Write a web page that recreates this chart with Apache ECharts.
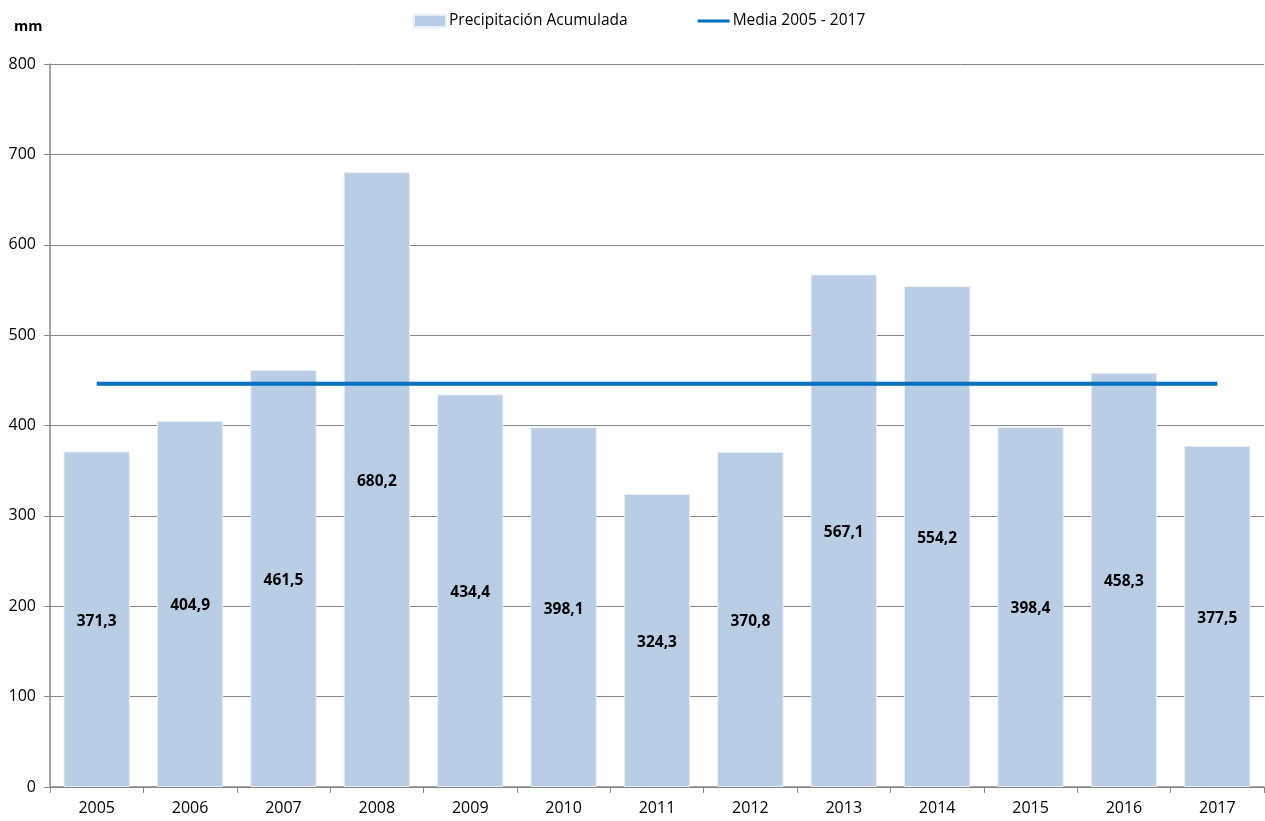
<!DOCTYPE html>
<html>
<head>
<meta charset="utf-8">
<script src="https://cdn.jsdelivr.net/npm/echarts@6/dist/echarts.min.js"></script>
<style>
  html, body { margin: 0; padding: 0; background: #fff; }
  #chart { width: 1265px; height: 821px; }
</style>
</head>
<body>
<div id="chart"></div>
<script>
// datos
var years = ['2005', '2006', '2007', '2008', '2009', '2010', '2011', '2012', '2013', '2014', '2015', '2016', '2017'];
var precip = [371.3, 404.9, 461.5, 680.2, 434.4, 398.1, 324.3, 370.8, 567.1, 554.2, 398.4, 458.3, 377.5];
var media = [446.2, 446.2, 446.2, 446.2, 446.2, 446.2, 446.2, 446.2, 446.2, 446.2, 446.2, 446.2, 446.2];

var font = '"Open Sans", Lato, sans-serif';

var chart = echarts.init(document.getElementById('chart'));
chart.setOption({
  backgroundColor: '#fff',
  animation: false,
  textStyle: { fontFamily: font },
  title: {
    text: 'mm',
    left: 14, top: 19,
    padding: 0,
    textStyle: { fontSize: 14.5, fontWeight: 'bold', color: '#000', fontFamily: font }
  },
  legend: {
    top: 13,
    left: 413,
    padding: 0,
    itemGap: 70,
    textStyle: { fontSize: 15.5, color: '#000', fontFamily: font, padding: [0, 0, 0, -2] },
    data: [
      { name: 'Precipitación Acumulada', icon: 'rect', itemStyle: { color: '#b9cde5' } },
      { name: 'Media 2005 - 2017', icon: 'path://M0,0 L40,0 L40,4 L0,4 Z' }
    ],
    itemWidth: 32,
    itemHeight: 12
  },
  grid: { left: 50, right: 1, top: 64, bottom: 34 },
  xAxis: {
    type: 'category',
    data: years,
    axisLine: { lineStyle: { color: '#868686', width: 1.5 } },
    axisTick: { show: true, length: 6, lineStyle: { color: '#868686' } },
    axisLabel: { fontSize: 16, color: '#000', margin: 13, fontFamily: font }
  },
  yAxis: {
    type: 'value',
    min: 0, max: 800, interval: 100,
    axisLine: { show: true, lineStyle: { color: '#868686', width: 1.5 } },
    axisTick: { show: true, length: 6, lineStyle: { color: '#868686' } },
    axisLabel: { fontSize: 16, color: '#000', margin: 14, fontFamily: font },
    splitLine: { lineStyle: { color: '#868686', width: 1 } }
  },
  series: [
    {
      name: 'Precipitación Acumulada',
      type: 'bar',
      data: precip,
      barCategoryGap: '29%',
      itemStyle: { color: '#b9cde5', borderColor: '#e8eef7', borderWidth: 1 },
      label: {
        show: true,
        position: 'inside',
        offset: [0, 2],
        fontSize: 15.5,
        fontWeight: 'bold',
        color: '#000',
        fontFamily: font,
        formatter: function (p) { return p.value.toFixed(1).replace('.', ','); }
      },
      z: 2
    },
    {
      name: 'Media 2005 - 2017',
      type: 'line',
      data: media,
      symbol: 'none',
      lineStyle: { color: '#0070c0', width: 4 },
      itemStyle: { color: '#0070c0' },
      z: 3
    }
  ]
});
</script>
</body>
</html>
